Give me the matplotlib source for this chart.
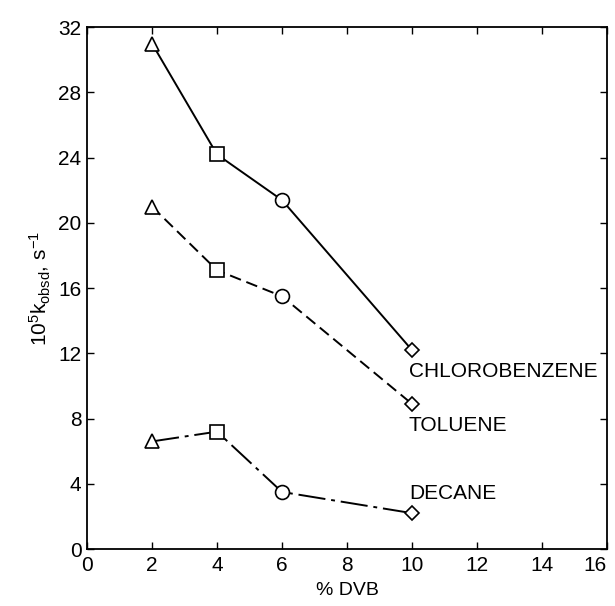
import matplotlib
matplotlib.use('Agg')
import matplotlib.pyplot as plt

plt.rcParams['font.family'] = ['Liberation Sans', 'DejaVu Sans']
plt.rcParams['mathtext.fontset'] = 'custom'
plt.rcParams['mathtext.rm'] = 'Liberation Sans'
plt.rcParams['mathtext.it'] = 'Liberation Sans'

dvb = [2, 4, 6, 10]
chlorobenzene = [31.0, 24.2, 21.4, 12.2]
toluene = [21.0, 17.1, 15.5, 8.9]
decane = [6.6, 7.2, 3.5, 2.2]
markers = ['^', 's', 'o', 'D']

fig = plt.figure(figsize=(6.15, 6.06), dpi=100)
ax = fig.add_axes([0.1415, 0.094, 0.8455, 0.861])

series = [
    (chlorobenzene, '-', 'CHLOROBENZENE', 10.9),
    (toluene, (0, (6, 3)), 'TOLUENE', 7.6),
    (decane, (0, (14, 3, 2, 3)), 'DECANE', 3.4),
]
for vals, ls, name, ty in series:
    ax.plot(dvb, vals, color='black', linestyle=ls, linewidth=1.4)
    for x, y, m in zip(dvb, vals, markers):
        ms = 10 if m != 'D' else 7.5
        ax.plot(x, y, marker=m, markersize=ms, markerfacecolor='white',
                markeredgecolor='black', markeredgewidth=1.2, linestyle='none')
    ax.text(9.9, ty, name, fontsize=15, va='center', ha='left', clip_on=False)

ax.set_xlim(0, 16)
ax.set_ylim(0, 32)
ax.set_xticks(range(0, 17, 2))
ax.set_yticks(range(0, 33, 4))
ax.tick_params(direction='in', length=5, width=1, labelsize=15,
               top=True, right=True)
ax.tick_params(axis='x', pad=5)
ax.tick_params(axis='y', pad=4, labelright=False)
# last x label sits on the figure edge, nudge it in
ax.get_xticklabels()[-1].set_horizontalalignment('right')
ax.get_xticklabels()[-1].set_x(16.25)
for s in ax.spines.values():
    s.set_linewidth(1.3)

ax.set_xlabel('% DVB', fontsize=14, labelpad=5)
ax.set_ylabel(r'10$^5$k$_{\mathrm{obsd}}$, s$^{-1}$', fontsize=15, labelpad=4)

fig.savefig('out.png', dpi=100)
